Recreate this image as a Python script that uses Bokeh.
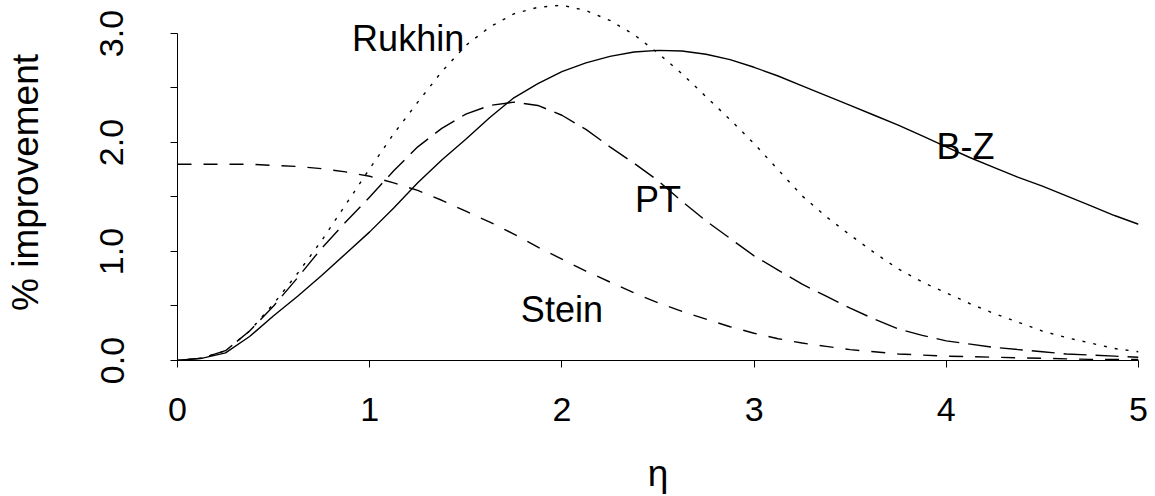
from bokeh.plotting import figure
from bokeh.models import FixedTicker, Range1d, CustomJSTickFormatter, ColumnDataSource
from bokeh.embed import file_html
from bokeh.resources import INLINE
from bokeh.core.properties import value

# ---- data ----
eta = [0, 0.125, 0.25, 0.375, 0.5, 0.625, 0.75, 0.875, 1.0, 1.125, 1.25,
       1.375, 1.5, 1.625, 1.75, 1.875, 2.0, 2.125, 2.25, 2.375, 2.5,
       2.625, 2.75, 2.875, 3.0, 3.125, 3.25, 3.375, 3.5, 3.625, 3.75,
       3.875, 4.0, 4.125, 4.25, 4.375, 4.5, 4.625, 4.75, 4.875, 5.0]
rukhin = [0.0, 0.02, 0.09, 0.27, 0.52, 0.80, 1.10, 1.43, 1.76, 2.08, 2.37,
          2.65, 2.89, 3.06, 3.18, 3.24, 3.26, 3.21, 3.12, 2.99, 2.82,
          2.63, 2.42, 2.21, 1.99, 1.75, 1.51, 1.32, 1.15, 0.99, 0.84,
          0.72, 0.62, 0.52, 0.43, 0.35, 0.27, 0.21, 0.16, 0.11, 0.08]
bz = [0.0, 0.02, 0.07, 0.22, 0.41, 0.59, 0.78, 0.98, 1.18, 1.40, 1.63,
      1.84, 2.03, 2.23, 2.41, 2.54, 2.65, 2.73, 2.79, 2.83, 2.845,
      2.84, 2.81, 2.76, 2.69, 2.61, 2.52, 2.43, 2.34, 2.25, 2.16,
      2.06, 1.96, 1.86, 1.77, 1.68, 1.60, 1.51, 1.42, 1.33, 1.25]
pt = [0.0, 0.02, 0.09, 0.27, 0.50, 0.76, 1.03, 1.27, 1.50, 1.74, 1.96,
      2.13, 2.26, 2.34, 2.37, 2.34, 2.25, 2.12, 1.96, 1.81, 1.65,
      1.46, 1.28, 1.12, 0.96, 0.83, 0.70, 0.59, 0.48, 0.38, 0.29,
      0.23, 0.18, 0.15, 0.12, 0.10, 0.08, 0.06, 0.05, 0.04, 0.03]
stein = [1.80, 1.80, 1.80, 1.80, 1.79, 1.78, 1.76, 1.73, 1.69, 1.63, 1.56,
         1.47, 1.37, 1.27, 1.16, 1.04, 0.93, 0.82, 0.72, 0.62, 0.53,
         0.45, 0.38, 0.31, 0.25, 0.20, 0.16, 0.13, 0.10, 0.08, 0.06,
         0.05, 0.04, 0.035, 0.03, 0.025, 0.02, 0.015, 0.01, 0.01, 0.01]

label_text = ["Rukhin", "PT", "Stein", "B-Z"]
label_x = [1.20, 2.50, 2.00, 4.10]
label_y = [2.95, 1.48, 0.47, 1.965]

x_ticks = [0, 1, 2, 3, 4, 5]
y_ticks = [0, 0.5, 1.0, 1.5, 2.0, 2.5, 3.0]

FONT = "Liberation Sans"

p = figure(width=1155, height=496, output_backend="svg", toolbar_location=None,
           x_range=Range1d(0, 5), y_range=Range1d(0, 3.266),
           min_border_left=177, min_border_right=17,
           min_border_top=4, min_border_bottom=136,
           x_axis_label="η", y_axis_label="% improvement")

p.outline_line_color = None
p.xgrid.visible = False
p.ygrid.visible = False
p.background_fill_color = "white"
p.border_fill_color = "white"

for ax in (p.xaxis[0], p.yaxis[0]):
    ax.axis_line_color = "black"
    ax.axis_line_width = 1
    ax.major_tick_line_color = "black"
    ax.major_tick_out = 7
    ax.major_tick_in = 0
    ax.minor_tick_line_color = None
    ax.major_label_text_font = FONT
    ax.major_label_text_font_size = "34px"
    ax.major_label_text_color = "black"
    ax.axis_label_text_font = FONT
    ax.axis_label_text_font_size = "37px"
    ax.axis_label_text_font_style = "normal"
    ax.axis_label_text_color = "black"

p.xaxis.ticker = FixedTicker(ticks=x_ticks)
p.xaxis.bounds = (0, 5)
p.xaxis.major_label_standoff = 30
p.xaxis.axis_label_standoff = 29

p.yaxis.ticker = FixedTicker(ticks=y_ticks)
p.yaxis.bounds = (0, 3.0)
p.yaxis.formatter = CustomJSTickFormatter(
    code="return (Math.abs(tick - Math.round(tick)) < 1e-9) ? tick.toFixed(1) : '';")
p.yaxis.major_label_orientation = "vertical"
p.yaxis.major_label_standoff = 47
p.yaxis.axis_label_standoff = 52

p.line(eta, bz, line_color="black", line_width=1.4)
p.line(eta, rukhin, line_color="black", line_width=1.4, line_dash="3 8")
p.line(eta, pt, line_color="black", line_width=1.4, line_dash="23 9")
p.line(eta, stein, line_color="black", line_width=1.4, line_dash="14 12")

src = ColumnDataSource(dict(x=label_x, y=label_y, t=label_text))
p.text(x="x", y="y", text="t", source=src, text_font=value(FONT),
       text_font_size="36px", text_align="center", text_baseline="alphabetic",
       text_color="black")

open("out.html", "w").write(file_html(p, INLINE))
